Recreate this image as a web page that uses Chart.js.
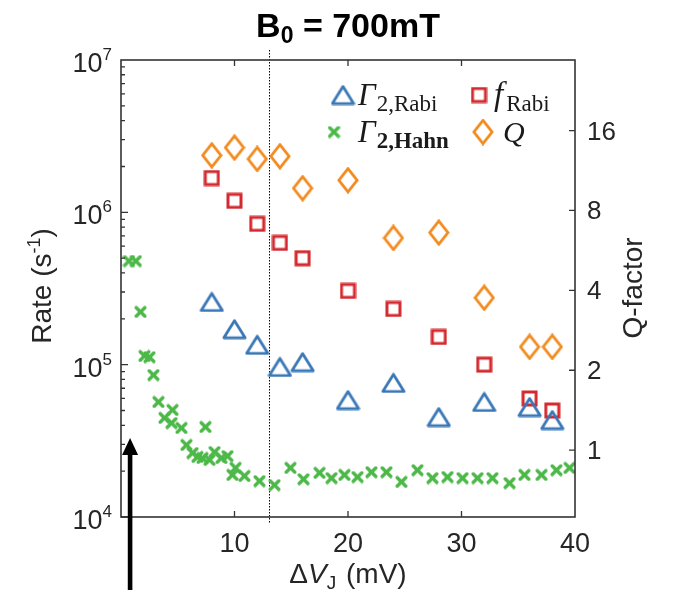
<!DOCTYPE html>
<html lang="en">
<head>
<meta charset="UTF-8">
<title>B0 = 700mT</title>
<script src="https://cdn.jsdelivr.net/npm/chart.js"></script>
<style>
  html, body { margin: 0; padding: 0; background: #fff; }
  #grafico { display: block; }
</style>
</head>
<body>
<canvas id="grafico" width="674" height="597"></canvas>
<script>
  // values
  const voltsRabi = [8, 10, 12, 14, 16, 20, 24, 28, 32, 36, 38];
  const gammaRabi = [2.58e5, 1.71e5, 1.35e5, 9.66e4, 1.04e5, 5.86e4, 7.59e4, 4.53e4, 5.69e4, 5.27e4, 4.33e4];
  const fRabi = [1.68e6, 1.19e6, 8.4e5, 6.3e5, 5.0e5, 3.05e5, 2.32e5, 1.52e5, 1.0e5, 6.0e4, 5.0e4];
  const qFactor = [12.9, 13.8, 12.5, 12.8, 9.7, 10.4, 6.3, 6.6, 3.75, 2.45, 2.45];

  const voltsHahn = [0.7, 1.3, 1.72, 2.07, 2.51, 2.86, 3.3, 3.83, 4.45, 4.54, 5.33, 5.77, 6.3, 6.74, 7.18,
    7.44, 7.8, 8.24, 8.85, 9.38, 9.82, 10.09, 10.88, 12.2, 13.52, 14.93, 16.08, 17.49, 18.55, 19.69,
    20.84, 22.07, 23.39, 24.71, 26.12, 27.44, 28.77, 30.09, 31.41, 32.73, 34.23, 35.55, 37.05, 38.37, 39.52];
  const gammaHahn = [4.79e5, 4.79e5, 2.22e5, 1.14e5, 1.12e5, 8.55e4, 5.69e4, 4.47e4, 4.14e4, 5.04e4, 3.84e4, 2.97e4, 2.63e4, 2.48e4, 2.44e4,
    3.9e4, 2.37e4, 2.67e4, 2.44e4, 2.51e4, 1.89e4, 2.1e4, 1.86e4, 1.72e4, 1.62e4, 2.1e4, 1.77e4, 1.95e4, 1.8e4, 1.89e4,
    1.83e4, 1.97e4, 1.97e4, 1.7e4, 2.03e4, 1.8e4, 1.83e4, 1.8e4, 1.8e4, 1.8e4, 1.67e4, 1.89e4, 1.89e4, 2.03e4, 2.1e4];

  const ticksRate = [1e4, 1e5, 1e6, 1e7];
  const ticksQ = [1, 2, 4, 8, 16];
  const ticksVolt = [10, 20, 30, 40];

  const linhaVolt = 13;      // dotted vertical line
  const setaVolt = 0.8;      // black arrow
  const setaRate = 3.3e4;    // arrow tip

  const azul = '#3a77b7';
  const vermelho = '#d42a2f';
  const laranja = '#f28a1e';
  const verde = '#4cb848';

  function criarMarcador(tipo, w, h, cor, lw) {
    const c = document.createElement('canvas');
    c.width = w;
    c.height = h;
    const g = c.getContext('2d');
    g.strokeStyle = cor;
    g.lineWidth = lw;
    g.lineJoin = 'miter';
    const p = lw / 2 + 0.5;
    g.beginPath();
    if (tipo === 'triangulo') {
      g.lineJoin = 'round';
      g.moveTo(w / 2, p);
      g.lineTo(w - p, h - p);
      g.lineTo(p, h - p);
      g.closePath();
    } else if (tipo === 'quadrado') {
      g.rect(p, p, w - 2 * p, h - 2 * p);
    } else if (tipo === 'losango') {
      g.moveTo(w / 2, p);
      g.lineTo(w - p, h / 2);
      g.lineTo(w / 2, h - p);
      g.lineTo(p, h / 2);
      g.closePath();
    } else {
      g.lineCap = 'round';
      g.moveTo(p, p);
      g.lineTo(w - p, h - p);
      g.moveTo(w - p, p);
      g.lineTo(p, h - p);
    }
    g.stroke();
    return c;
  }

  const mTriangulo = criarMarcador('triangulo', 25, 21, azul, 2.8);
  const mQuadrado = criarMarcador('quadrado', 17, 17, vermelho, 3);
  const mLosango = criarMarcador('losango', 22, 27, laranja, 2.8);
  const mXis = criarMarcador('xis', 13, 13, verde, 3.4);

  function pontos(xs, ys) {
    return xs.map((v, i) => ({ x: v, y: ys[i] }));
  }

  // draws a list of text pieces side by side (for sub/superscripts)
  function escreverPartes(ctx, partes, x, y, alinhar) {
    let total = 0;
    partes.forEach(p => {
      ctx.font = p.font;
      p.w = ctx.measureText(p.t).width;
      total += p.w + (p.gap || 0);
    });
    let cx = x;
    if (alinhar === 'center') cx = x - total / 2;
    if (alinhar === 'right') cx = x - total;
    partes.forEach(p => {
      ctx.font = p.font;
      ctx.fillText(p.t, cx, y + (p.dy || 0));
      cx += p.w + (p.gap || 0);
    });
  }

  const sans = '"Liberation Sans", Arial, sans-serif';
  const serif = '"Liberation Serif", "DejaVu Serif", serif';

  const decoracao = {
    id: 'decoracao',
    beforeDatasetsDraw(chart) {
      const ctx = chart.ctx;
      const area = chart.chartArea;
      const xl = Math.round(chart.scales.x.getPixelForValue(linhaVolt)) + 0.5;
      ctx.save();
      ctx.strokeStyle = '#000';
      ctx.lineWidth = 1;
      ctx.setLineDash([1.5, 1.5]);
      ctx.beginPath();
      ctx.moveTo(xl, area.top - 10);
      ctx.lineTo(xl, area.bottom + 6);
      ctx.stroke();
      ctx.restore();
    },
    afterDatasetsDraw(chart) {
      const ctx = chart.ctx;
      const area = chart.chartArea;
      const sx = chart.scales.x, sy = chart.scales.y, sq = chart.scales.q;
      ctx.save();

      // frame
      ctx.strokeStyle = '#333';
      ctx.lineWidth = 1.6;
      ctx.strokeRect(area.left, area.top, area.right - area.left, area.bottom - area.top);

      // ticks
      ctx.lineWidth = 1.3;
      ctx.beginPath();
      ticksVolt.slice(0, 3).forEach(v => {
        const px = sx.getPixelForValue(v);
        ctx.moveTo(px, area.bottom); ctx.lineTo(px, area.bottom - 6);
        ctx.moveTo(px, area.top); ctx.lineTo(px, area.top + 6);
      });
      for (let d = 4; d < 7; d++) {
        for (let m = 1; m < 10; m++) {
          const py = sy.getPixelForValue(m * Math.pow(10, d));
          ctx.moveTo(area.left, py); ctx.lineTo(area.left + (m === 1 ? 7 : 4), py);
        }
      }
      ticksQ.forEach(v => {
        const py = sq.getPixelForValue(v);
        ctx.moveTo(area.right, py); ctx.lineTo(area.right - 6, py);
      });
      ctx.stroke();

      // tick labels
      ctx.fillStyle = '#262626';
      ctx.textBaseline = 'alphabetic';
      ctx.textAlign = 'left';
      ticksRate.forEach(v => {
        const py = sy.getPixelForValue(v);
        const e = Math.round(Math.log10(v));
        escreverPartes(ctx, [
          { t: '10', font: '27px ' + sans, dy: 12 },
          { t: String(e), font: '17px ' + sans, dy: 0 }
        ], area.left - 9, py, 'right');
      });
      ticksVolt.forEach(v => {
        const px = sx.getPixelForValue(v);
        escreverPartes(ctx, [{ t: String(v), font: '27px ' + sans }], px, 552, 'center');
      });
      ticksQ.forEach(v => {
        const py = sq.getPixelForValue(v);
        escreverPartes(ctx, [{ t: String(v), font: '26px ' + sans }], area.right + 12, py + 9, 'left');
      });

      // axis titles
      escreverPartes(ctx, [
        { t: '\u0394', font: '28px ' + sans },
        { t: 'V', font: 'italic 28px ' + sans },
        { t: 'J', font: '19px ' + sans, dy: 6, gap: 2 },
        { t: ' (mV)', font: '28px ' + sans }
      ], (area.left + area.right) / 2, 583, 'center');

      ctx.save();
      ctx.translate(41, 286);
      ctx.rotate(-Math.PI / 2);
      escreverPartes(ctx, [
        { t: 'Rate (s', font: '28px ' + sans },
        { t: '-1', font: '18px ' + sans, dy: -11 },
        { t: ')', font: '28px ' + sans }
      ], 0, 10, 'center');
      ctx.restore();

      ctx.save();
      ctx.translate(632, 288);
      ctx.rotate(-Math.PI / 2);
      escreverPartes(ctx, [{ t: 'Q-factor', font: '28px ' + sans }], 0, 10, 'center');
      ctx.restore();

      // title
      ctx.fillStyle = '#000';
      escreverPartes(ctx, [
        { t: 'B', font: 'bold 34px ' + sans },
        { t: '0', font: 'bold 23px ' + sans, dy: 6 },
        { t: ' = 700mT', font: 'bold 34px ' + sans }
      ], (area.left + area.right) / 2, 37, 'center');

      // arrow
      const ax = sx.getPixelForValue(setaVolt);
      const tipY = sy.getPixelForValue(setaRate);
      ctx.fillRect(ax - 2.3, tipY + 14, 4.6, chart.height - 7 - (tipY + 14));
      ctx.beginPath();
      ctx.moveTo(ax, tipY);
      ctx.lineTo(ax + 8, tipY + 17);
      ctx.lineTo(ax - 8, tipY + 17);
      ctx.closePath();
      ctx.fill();

      // legend
      const l1 = area.top + 35, l2 = area.top + 72;
      const c1 = area.left + 222, c2 = area.left + 358;
      ctx.drawImage(mTriangulo, c1 - mTriangulo.width / 2, l1 - mTriangulo.height / 2);
      ctx.drawImage(mQuadrado, c2 - mQuadrado.width / 2, l1 - mQuadrado.height / 2);
      ctx.drawImage(mXis, c1 - 9 - mXis.width / 2, l2 - mXis.height / 2);
      ctx.drawImage(mLosango, c2 + 4 - mLosango.width / 2, l2 - mLosango.height / 2);
      ctx.fillStyle = '#1a1a1a';
      escreverPartes(ctx, [
        { t: '\u0393', font: 'italic 31px ' + serif, gap: 1 },
        { t: '2,Rabi', font: '23px ' + serif, dy: 6 }
      ], c1 + 15, l1 + 10, 'left');
      escreverPartes(ctx, [
        { t: 'f', font: 'italic 33px ' + serif, gap: 3 },
        { t: 'Rabi', font: '23px ' + serif, dy: 6 }
      ], c2 + 15, l1 + 10, 'left');
      escreverPartes(ctx, [
        { t: '\u0393', font: 'italic 31px ' + serif, gap: 1 },
        { t: '2,Hahn', font: 'bold 23px ' + serif, dy: 6 }
      ], c1 + 15, l2 + 10, 'left');
      escreverPartes(ctx, [
        { t: 'Q', font: 'italic 30px ' + serif }
      ], c2 + 24, l2 + 10, 'left');

      ctx.restore();
    }
  };

  new Chart(document.getElementById('grafico'), {
    type: 'scatter',
    data: {
      datasets: [
        { label: '\u0393 2,Rabi', data: pontos(voltsRabi, gammaRabi), pointStyle: mTriangulo, pointRadius: 8, yAxisID: 'y' },
        { label: 'f Rabi', data: pontos(voltsRabi, fRabi), pointStyle: mQuadrado, pointRadius: 8, yAxisID: 'y' },
        { label: 'Q', data: pontos(voltsRabi, qFactor), pointStyle: mLosango, pointRadius: 8, yAxisID: 'q' },
        { label: '\u0393 2,Hahn', data: pontos(voltsHahn, gammaHahn), pointStyle: mXis, pointRadius: 6, yAxisID: 'y' }
      ]
    },
    options: {
      responsive: false,
      animation: false,
      events: [],
      devicePixelRatio: 1,
      layout: { padding: { left: 121, right: 99, top: 60, bottom: 80 } },
      plugins: { legend: { display: false }, title: { display: false }, tooltip: { enabled: false } },
      scales: {
        x: { type: 'linear', min: 0, max: 40, display: false },
        y: { type: 'logarithmic', min: 1e4, max: 1e7, display: false },
        q: { type: 'logarithmic', position: 'right', min: 0.56, max: 29.5, display: false }
      }
    },
    plugins: [decoracao]
  });
</script>
</body>
</html>
